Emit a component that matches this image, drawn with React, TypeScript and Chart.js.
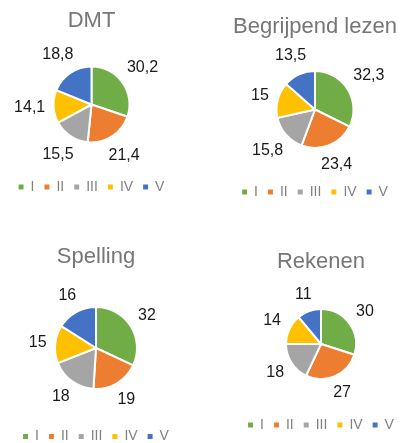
import React, { useEffect, useRef } from 'react';
import { Chart, registerables, DoughnutController } from 'chart.js';

Chart.register(...registerables);

// ---- data ----
const categories = ['I', 'II', 'III', 'IV', 'V'];
const dmtValues = [30.2, 21.4, 15.5, 14.1, 18.8];
const begrijpendLezenValues = [32.3, 23.4, 15.8, 15, 13.5];
const spellingValues = [32, 19, 18, 15, 16];
const rekenenValues = [30, 27, 18, 14, 11];
const chartTitles = ['DMT', 'Begrijpend lezen', 'Spelling', 'Rekenen'];

// ---- styles ----
const sliceColors = ['#70AD47', '#ED7D31', '#A5A5A5', '#FFC000', '#4472C4'];
const FONT = "'Liberation Sans', Arial, sans-serif";
const TITLE_SIZE = 22;
const TITLE_COLOR = '#767676';
const LEGEND_SIZE = 14;
const LEGEND_PAD = 10;
const LEGEND_COLOR = '#808080';
const LABEL_SIZE = 16;
const LABEL_COLOR = '#1a1a1a';
const LABEL_GAP = 8;
const LABEL_BOX_H = 14;

type Layout = {
  left: number; top: number; width: number;
  titleY: number; cy: number; r: number; legendY: number;
};

const layouts: Layout[] = [
  { left: 0, top: 0, width: 183, titleY: 20.5, cy: 104.5, r: 38, legendY: 187 },
  { left: 216, top: 0, width: 198, titleY: 27, cy: 109.5, r: 38.5, legendY: 192 },
  { left: 0, top: 221, width: 192, titleY: 257, cy: 348, r: 41, legendY: 436.5 },
  { left: 228, top: 221, width: 186, titleY: 262, cy: 344, r: 35, legendY: 425 },
];

const outsideLabels = {
  id: 'outsideLabels',
  afterDatasetsDraw(chart: any) {
    const ctx = chart.ctx;
    const meta = chart.getDatasetMeta(0);
    const data = chart.data.datasets[0].data;
    ctx.save();
    ctx.font = `${LABEL_SIZE}px ${FONT}`;
    ctx.fillStyle = LABEL_COLOR;
    ctx.textAlign = 'center';
    ctx.textBaseline = 'middle';
    meta.data.forEach((arc: any, i: number) => {
      const { x, y, startAngle, endAngle, outerRadius } = arc.getProps(
        ['x', 'y', 'startAngle', 'endAngle', 'outerRadius'], true);
      const mid = (startAngle + endAngle) / 2;
      const c = Math.cos(mid);
      const s = Math.sin(mid);
      const text = String(data[i]).replace('.', ',');
      const w = ctx.measureText(text).width;
      const d = outerRadius + LABEL_GAP + Math.abs(c) * w / 2 + Math.abs(s) * LABEL_BOX_H / 2;
      ctx.fillText(text, x + c * d, y + s * d);
    });
    ctx.restore();
  },
};

function PieChart({ title, values, layout }: { title: string; values: number[]; layout: Layout }) {
  const ref = useRef<HTMLCanvasElement | null>(null);

  const titleHalf = (TITLE_SIZE * 1.2) / 2;
  const titleMid = layout.titleY - layout.top;
  const legendTop = layout.legendY - layout.top - LEGEND_PAD - LEGEND_SIZE / 2;
  const legendHeight = LEGEND_SIZE + LEGEND_PAD + 10;
  const legendBottom = legendTop + legendHeight;
  const height = Math.ceil(legendBottom);
  const padBottom = height - legendBottom;
  const chartTop = 2 * (layout.cy - layout.top) - legendTop;
  const titlePadTop = titleMid - titleHalf;
  const titlePadBottom = chartTop - (titleMid + titleHalf);

  useEffect(() => {
    const defaultGen = (DoughnutController as any).overrides.plugins.legend.labels.generateLabels;
    const chart = new Chart(ref.current as HTMLCanvasElement, {
      type: 'pie',
      data: {
        labels: categories,
        datasets: [{
          data: values,
          backgroundColor: sliceColors,
          borderColor: '#ffffff',
          borderWidth: 2,
        }],
      },
      options: {
        responsive: false,
        maintainAspectRatio: false,
        animation: false,
        events: [],
        radius: layout.r,
        layout: { padding: { top: 0, left: 0, right: 0, bottom: padBottom } },
        plugins: {
          title: {
            display: true,
            text: title,
            color: TITLE_COLOR,
            font: { family: FONT, size: TITLE_SIZE, weight: 'normal' },
            padding: { top: titlePadTop, bottom: titlePadBottom },
          },
          legend: {
            display: true,
            position: 'bottom',
            labels: {
              boxWidth: 5,
              boxHeight: 5,
              padding: LEGEND_PAD,
              color: LEGEND_COLOR,
              font: { family: FONT, size: LEGEND_SIZE },
              generateLabels: (c: any) =>
                defaultGen(c).map((l: any) => ({ ...l, lineWidth: 0, strokeStyle: 'rgba(0,0,0,0)' })),
            },
          },
          tooltip: { enabled: false },
        },
      } as any,
      plugins: [outsideLabels],
    });
    return () => chart.destroy();
  }, []);

  return (
    <canvas
      ref={ref}
      width={layout.width}
      height={height}
      style={{
        position: 'absolute',
        left: layout.left,
        top: layout.top,
        width: layout.width,
        height,
        display: 'block',
      }}
    />
  );
}

export default function App() {
  const series = [dmtValues, begrijpendLezenValues, spellingValues, rekenenValues];
  return (
    <div
      style={{
        position: 'fixed',
        left: 0,
        top: 0,
        width: 414,
        height: 443,
        overflow: 'hidden',
        background: '#ffffff',
      }}
    >
      {series.map((vals, i) => (
        <PieChart key={i} title={chartTitles[i]} values={vals} layout={layouts[i]} />
      ))}
    </div>
  );
}
